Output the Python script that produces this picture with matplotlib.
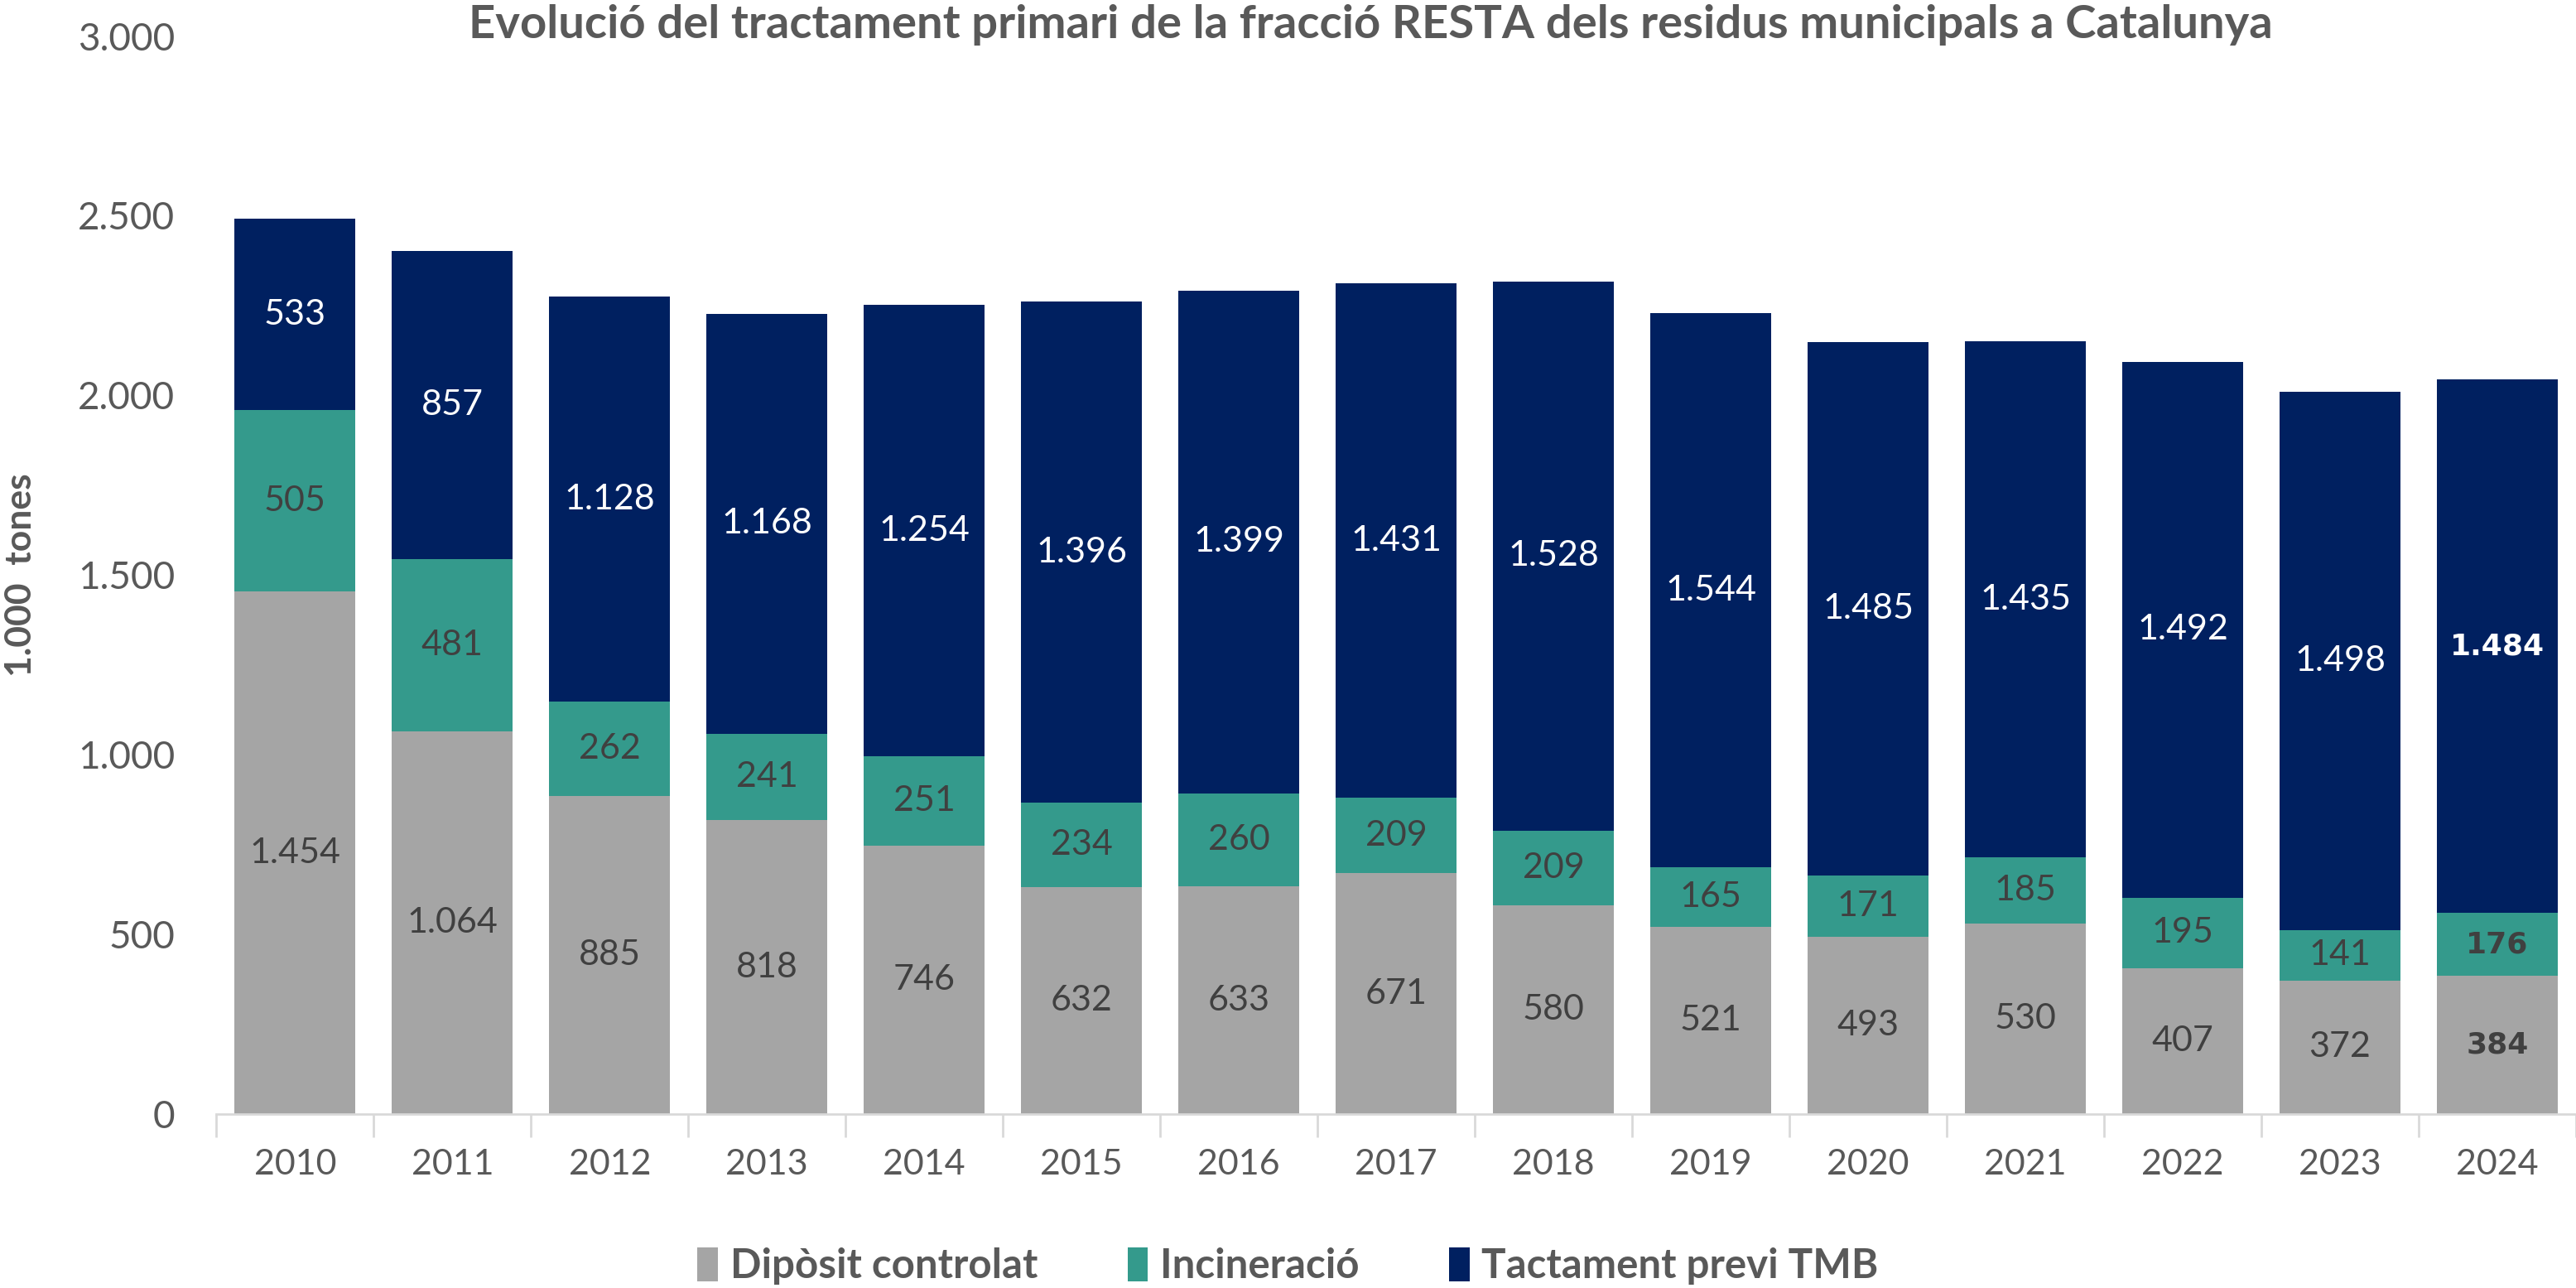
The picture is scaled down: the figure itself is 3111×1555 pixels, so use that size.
import matplotlib
matplotlib.use("Agg")
import matplotlib.pyplot as plt
from matplotlib.patches import Patch
import numpy as np

plt.rcParams['font.family'] = ['Lato', 'DejaVu Sans']

YEARS = ["2010", "2011", "2012", "2013", "2014", "2015", "2016", "2017",
         "2018", "2019", "2020", "2021", "2022", "2023", "2024"]
DIPOSIT = [1454, 1064, 885, 818, 746, 632, 633, 671, 580, 521, 493, 530, 407, 372, 384]
INCINERACIO = [505, 481, 262, 241, 251, 234, 260, 209, 209, 165, 171, 185, 195, 141, 176]
TMB = [533, 857, 1128, 1168, 1254, 1396, 1399, 1431, 1528, 1544, 1485, 1435, 1492, 1498, 1484]
SERIES_NAMES = ["Dipòsit controlat", "Incineració", "Tactament previ TMB"]

C_GRAY = "#A5A5A5"
C_TEAL = "#349A8C"
C_NAVY = "#002060"
C_TEXT = "#595959"


def fmt(v):
    return f"{v:,}".replace(",", ".")


fig = plt.figure(figsize=(31.11, 15.55), dpi=100)
ax = fig.add_axes([0.084, 0.135, 0.916, 0.837])

x = np.arange(len(YEARS))
w = 0.77
d = np.array(DIPOSIT)
inc = np.array(INCINERACIO)
tmb = np.array(TMB)

ax.bar(x, d, w, color=C_GRAY, edgecolor="none")
ax.bar(x, inc, w, bottom=d, color=C_TEAL, edgecolor="none")
ax.bar(x, tmb, w, bottom=d + inc, color=C_NAVY, edgecolor="none")

last = len(YEARS) - 1
for i in range(len(YEARS)):
    bold = i == last
    kw = dict(ha="center", va="center", fontsize=31 if not bold else 26)
    if bold:
        kw["family"] = ["DejaVu Sans"]
        kw["fontweight"] = "bold"
    ax.text(x[i], d[i] / 2, fmt(d[i]), color="#404040", **kw)
    ax.text(x[i], d[i] + inc[i] / 2, fmt(inc[i]), color="#404040", **kw)
    ax.text(x[i], d[i] + inc[i] + tmb[i] / 2, fmt(tmb[i]), color="white", **kw)

ax.set_xlim(-0.5, len(YEARS) - 0.5)
ax.set_ylim(0, 3000)
ax.set_yticks(np.arange(0, 3001, 500))
ax.set_yticklabels([fmt(v) for v in range(0, 3001, 500)])
ax.tick_params(axis="y", length=0, labelsize=33, labelcolor=C_TEXT, pad=36)

ax.set_xticks(x)
ax.set_xticklabels(YEARS)
ax.set_xticks(np.arange(-0.5, len(YEARS), 1), minor=True)
ax.tick_params(axis="x", which="major", length=0, labelsize=31, labelcolor=C_TEXT, pad=30)
ax.tick_params(axis="x", which="minor", length=20, color="#D9D9D9", width=2)

for s in ["top", "right", "left"]:
    ax.spines[s].set_visible(False)
ax.spines["bottom"].set_color("#D9D9D9")
ax.spines["bottom"].set_linewidth(2)

ax.set_ylabel("1.000  tones", fontsize=32, fontweight="bold", color=C_TEXT)
ax.yaxis.set_label_coords(-0.076, 0.50)

fig.text(0.532, 0.981, "Evolució del tractament primari de la fracció RESTA dels residus municipals a Catalunya",
         ha="center", va="center", fontsize=40.5, fontweight="bold", color=C_TEXT)

handles = [Patch(facecolor=c, edgecolor="none") for c in [C_GRAY, C_TEAL, C_NAVY]]
fig.legend(handles, SERIES_NAMES, loc="center", bbox_to_anchor=(0.5, 0.017), ncol=3, frameon=False,
           prop={"size": 35.5, "weight": "bold"}, labelcolor=C_TEXT,
           handlelength=0.5, handleheight=0.9, handletextpad=0.3, columnspacing=2.2)

fig.savefig("out.png", dpi=100)
